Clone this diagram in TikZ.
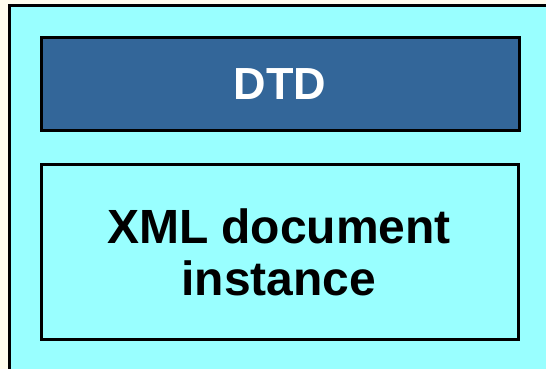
\documentclass[tikz,border=0pt]{standalone}
\usepackage{fontspec}
\setmainfont{Liberation Sans}
\definecolor{pagebg}{HTML}{FFFDEE}
\definecolor{panelcyan}{HTML}{99FFFF}
\definecolor{dtdblue}{HTML}{336699}
\begin{document}
\begin{tikzpicture}[x=1pt,y=-1pt,
  framebox/.style={draw=black,line width=3pt},
  label/.style={font=\fontsize{48}{52}\selectfont\bfseries,align=center}]
  \useasboundingbox (0,0) rectangle (546,369);
  \fill[pagebg] (0,0) rectangle (546,369);
  \begin{scope}
    \clip (0,0) rectangle (546,369);
    \draw[framebox,fill=panelcyan] (9.5,5.5) rectangle (570,390);
  \end{scope}
  \draw[framebox,fill=dtdblue] (41.5,37.5) rectangle (519,130.5);
  \node[label,text=white,font=\fontsize{45}{52}\selectfont\bfseries] (dtd) at (280,84) {DTD};
  \draw[framebox,fill=panelcyan] (41.5,164.5) rectangle (518.5,339.5);
  \node[label,text=black] (xml) at (279,252) {XML document\\instance};
\end{tikzpicture}
\end{document}
